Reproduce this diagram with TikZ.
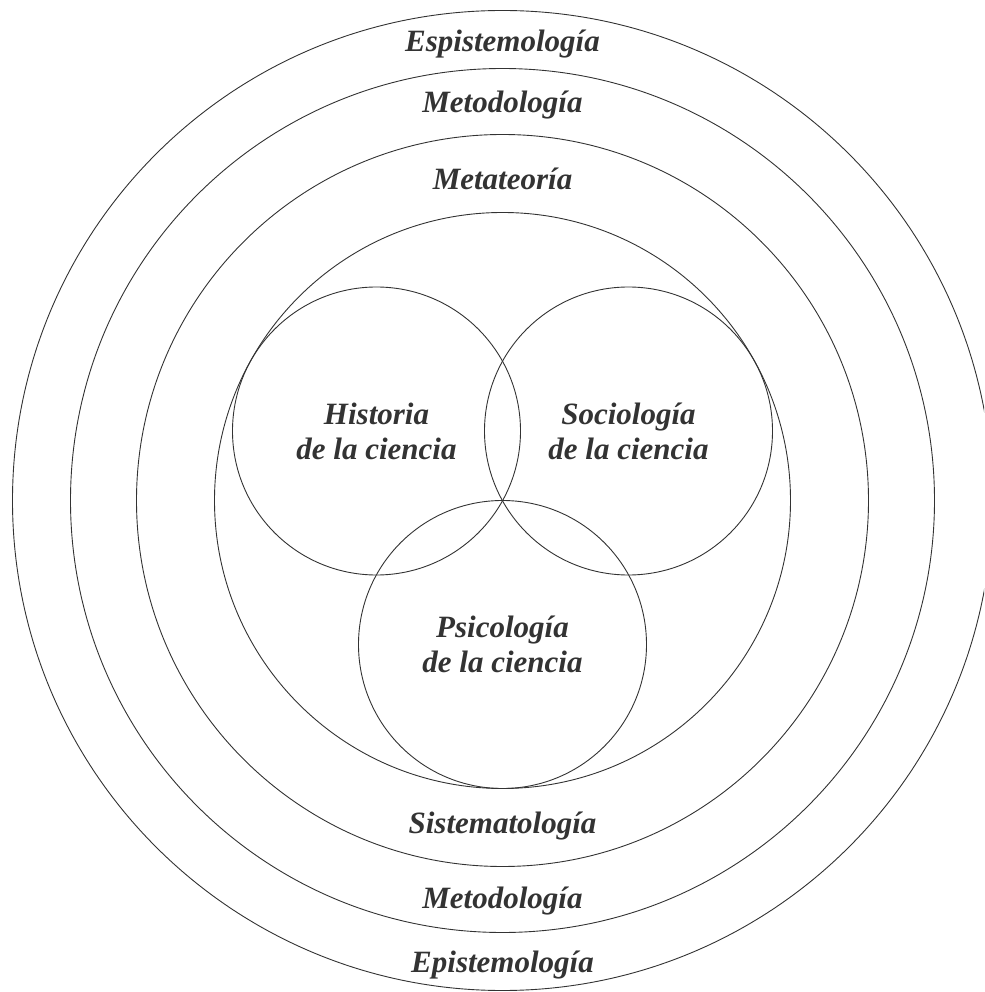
\documentclass[tikz,border=0pt]{standalone}
\usepackage{fontspec}
\setmainfont{Liberation Serif}
\usepackage{tikz}

\newcommand{\lbl}{\fontsize{31}{35}\selectfont\bfseries\itshape}

\begin{document}
\begin{tikzpicture}[x=1pt,y=1pt]

  \tikzstyle{ring} = [circle, draw=black!80, line width=0.9pt, inner sep=0pt]
  \tikzstyle{field} = [ring, minimum size=288pt, align=center, text=black!80, font=\lbl]
  \tikzstyle{layer} = [text=black!80, font=\lbl, anchor=base, inner sep=0pt]

  \clip (-502.5,-491.5) rectangle (481.5,500.5);

  \node (epistemologia) [ring, minimum size=980pt] {};
  \node (metodologia)   [ring, minimum size=864pt] {};
  \node (metateoria)    [ring, minimum size=732pt] {};
  \node (ciencia)       [ring, minimum size=576pt] {};

  \node (historia)   [field, xshift=-126pt, yshift=69.5pt] {Historia\\de la ciencia};
  \node (sociologia) [field, xshift=126pt, yshift=69.5pt] {Sociología\\de la ciencia};
  \node (psicologia) [field, yshift=-144pt] {Psicología\\de la ciencia};

  \node (epistop)  [layer, yshift=448.5pt] {Espistemología};
  \node (metotop)  [layer, yshift=387.5pt] {Metodología};
  \node (metateo)  [layer, yshift=310.5pt] {Metateoría};
  \node (sistema)  [layer, yshift=-332.5pt] {Sistematología};
  \node (metobot)  [layer, yshift=-407.5pt] {Metodología};
  \node (episbot)  [layer, yshift=-471.5pt] {Epistemología};

\end{tikzpicture}
\end{document}
